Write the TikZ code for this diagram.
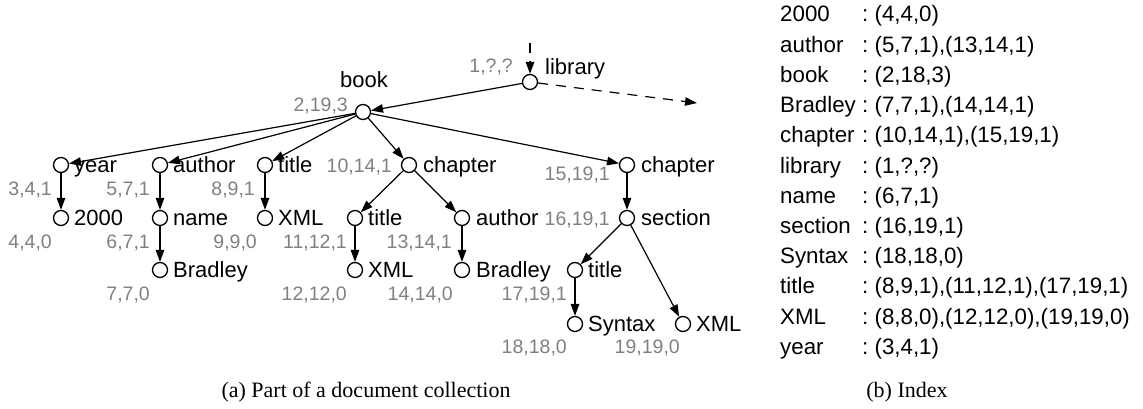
\documentclass[tikz,border=0pt]{standalone}
\usepackage{fontspec}
\setmainfont{Liberation Serif}
\setsansfont{Liberation Sans}
\usetikzlibrary{arrows.meta}
\definecolor{numgray}{RGB}{128,128,128}
\begin{document}
\begin{tikzpicture}[x=1pt,y=-1pt,
  nd/.style={circle, draw, line width=1.3pt, minimum size=15pt, inner sep=0pt},
  edge/.style={line width=1.2pt, -{Triangle[length=12pt,width=8.5pt]}},
  dedge/.style={edge, dash pattern=on 10pt off 8pt},
  lbl/.style={font=\sffamily\fontsize{22}{26}\selectfont, anchor=base west, inner sep=0pt},
  num/.style={font=\sffamily\fontsize{19.5}{23}\selectfont, text=numgray, anchor=base east, inner sep=0pt},
  idx/.style={font=\sffamily\fontsize{22.3}{26}\selectfont, anchor=base west, inner sep=0pt},
  captxt/.style={font=\rmfamily\fontsize{22}{26}\selectfont, anchor=base, inner sep=0pt}]
\useasboundingbox (0,0) rectangle (1143,409);

% tree nodes
\node[nd] (lib)   at (530,82) {};
\node[nd] (book)  at (363,112) {};
\node[nd] (year)  at (61,165) {};
\node[nd] (auth1) at (160,165) {};
\node[nd] (tit1)  at (265,165) {};
\node[nd] (chap1) at (409,165) {};
\node[nd] (chap2) at (627,165) {};
\node[nd] (y2000) at (61,218) {};
\node[nd] (name)  at (160,218) {};
\node[nd] (brad1) at (160,270) {};
\node[nd] (xml1)  at (265,218) {};
\node[nd] (tit2)  at (355,218) {};
\node[nd] (auth2) at (462,218) {};
\node[nd] (sect)  at (627,218) {};
\node[nd] (xml2)  at (355,270) {};
\node[nd] (brad2) at (462,270) {};
\node[nd] (tit3)  at (575,270) {};
\node[nd] (syn)   at (575,324) {};
\node[nd] (xml3)  at (683,324) {};

\coordinate (top) at (530,43);
\coordinate (rgt) at (697,103);

% connectors
\draw[dedge] (top) -- (lib);
\draw[dedge] (lib) -- (rgt);
\draw[edge] (lib) -- (book);
\draw[edge] (book) -- (year);
\draw[edge] (book) -- (auth1);
\draw[edge] (book) -- (tit1);
\draw[edge] (book) -- (chap1);
\draw[edge] (book) -- (chap2);
\draw[edge] (year) -- (y2000);
\draw[edge] (auth1) -- (name);
\draw[edge] (name) -- (brad1);
\draw[edge] (tit1) -- (xml1);
\draw[edge] (chap1) -- (tit2);
\draw[edge] (chap1) -- (auth2);
\draw[edge] (tit2) -- (xml2);
\draw[edge] (auth2) -- (brad2);
\draw[edge] (chap2) -- (sect);
\draw[edge] (sect) -- (tit3);
\draw[edge] (sect) -- (xml3);
\draw[edge] (tit3) -- (syn);

% black labels
\node[lbl] (tlib) at (545,75) {library};
\node[lbl, anchor=base] (tbook) at (364,88) {book};
\node[lbl] (tyear) at (74,172.5) {year};
\node[lbl] (tauth1) at (173,172.5) {author};
\node[lbl] (ttit1) at (278,172.5) {title};
\node[lbl] (tchap1) at (423,172.5) {chapter};
\node[lbl] (tchap2) at (641,172.5) {chapter};
\node[lbl] (t2000) at (74,225.5) {2000};
\node[lbl] (tname) at (173,225.5) {name};
\node[lbl] (tbrad1) at (173,277.5) {Bradley};
\node[lbl] (txml1) at (278,225.5) {XML};
\node[lbl] (ttit2) at (368,225.5) {title};
\node[lbl] (tauth2) at (476,225.5) {author};
\node[lbl] (tsect) at (641,225.5) {section};
\node[lbl] (txml2) at (368,277.5) {XML};
\node[lbl] (tbrad2) at (476,277.5) {Bradley};
\node[lbl] (ttit3) at (588,277.5) {title};
\node[lbl] (tsyn) at (588,331.5) {Syntax};
\node[lbl] (txml3) at (696,331.5) {XML};

% gray numbers
\node[num] (nlib) at (513,73) {1,?,?};
\node[num] (nbook) at (348,112) {2,19,3};
\node[num] (nyear) at (52,195) {3,4,1};
\node[num] (nauth1) at (150,195) {5,7,1};
\node[num] (ntit1) at (255,195) {8,9,1};
\node[num] (nchap1) at (392,172) {10,14,1};
\node[num] (nchap2) at (610,180) {15,19,1};
\node[num] (n2000) at (52,248) {4,4,0};
\node[num] (nname) at (150,248) {6,7,1};
\node[num] (nxml1) at (257,248) {9,9,0};
\node[num] (ntit2) at (347,248) {11,12,1};
\node[num] (nauth2) at (452,248) {13,14,1};
\node[num] (nsect) at (610,225) {16,19,1};
\node[num] (nbrad1) at (150,300) {7,7,0};
\node[num] (nxml2) at (347,300) {12,12,0};
\node[num] (nbrad2) at (453,300) {14,14,0};
\node[num] (ntit3) at (567,300) {17,19,1};
\node[num] (nsyn) at (567,353) {18,18,0};
\node[num] (nxml3) at (680,353) {19,19,0};

% index
\foreach \i/\w/\v in {0/2000/{(4,4,0)}, 1/author/{(5,7,1),(13,14,1)}, 2/book/{(2,18,3)},
  3/Bradley/{(7,7,1),(14,14,1)}, 4/chapter/{(10,14,1),(15,19,1)}, 5/library/{(1,?,?)},
  6/name/{(6,7,1)}, 7/section/{(16,19,1)}, 8/Syntax/{(18,18,0)},
  9/title/{(8,9,1),(11,12,1),(17,19,1)}, 10/XML/{(8,8,0),(12,12,0),(19,19,0)}, 11/year/{(3,4,1)}}{
  \node[idx] (kw\i) at (780,22+30.2*\i) {\w};
  \node[idx] (kv\i) at (862,22+30.2*\i) {:~\v};
}

% captions
\node[captxt] (capa) at (366,397) {(a) Part of a document collection};
\node[captxt] (capb) at (907,397) {(b) Index};
\end{tikzpicture}
\end{document}
